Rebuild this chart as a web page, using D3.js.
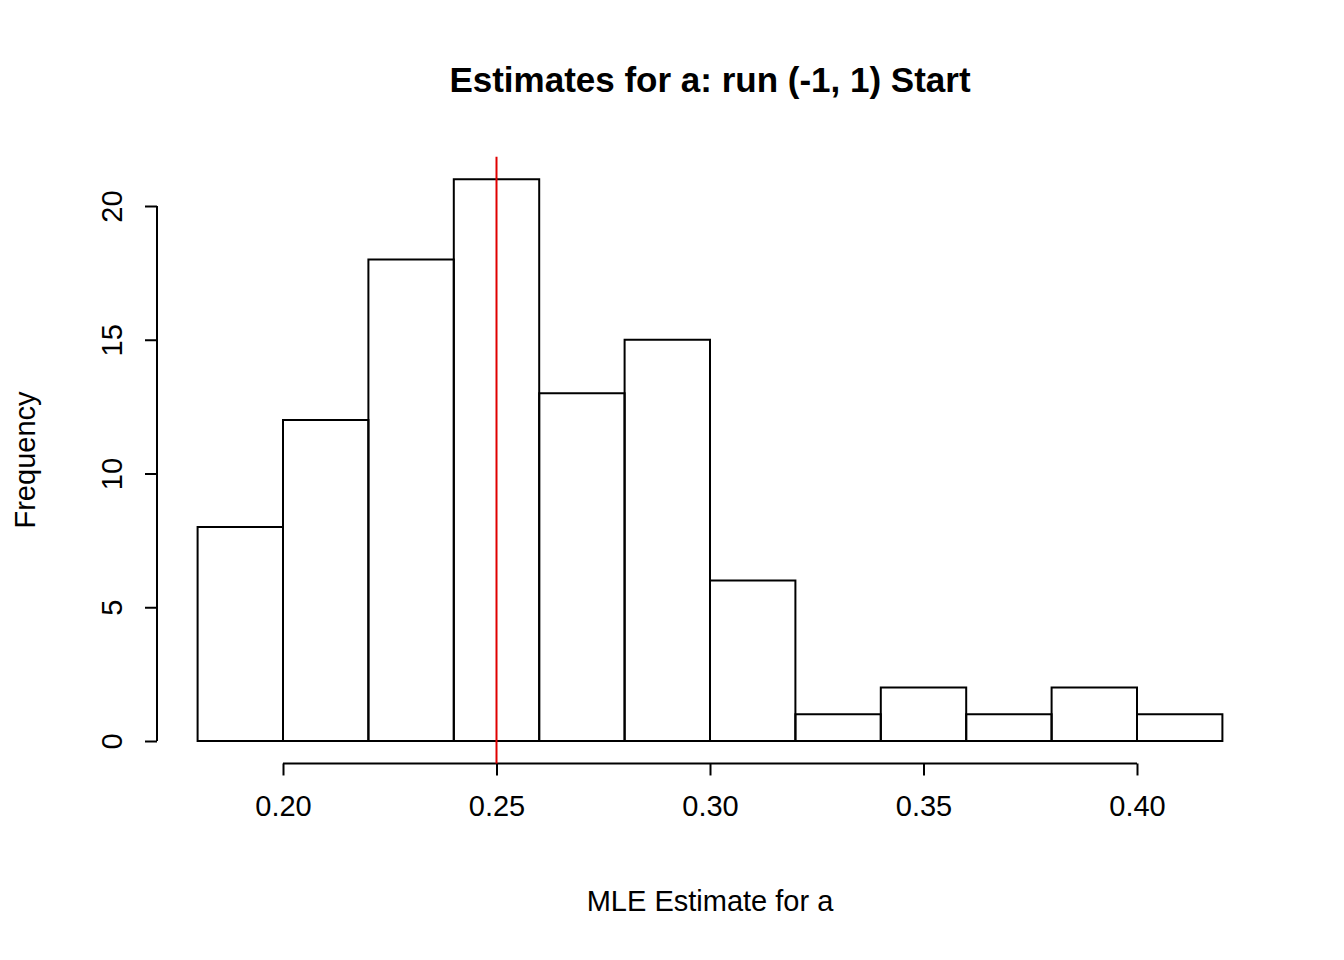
<!DOCTYPE html>
<html><head><meta charset="utf-8">
<script src="https://cdn.jsdelivr.net/npm/d3@7"></script>
<style>body{margin:0;background:#fff}text{font-family:"Liberation Sans",Arial,sans-serif}</style>
</head><body>
<svg id="c" width="1344" height="960"></svg>
<script>
const binStarts = [0.18,0.20,0.22,0.24,0.26,0.28,0.30,0.32,0.34,0.36,0.38,0.40];
const binWidth = 0.02;
const counts = [8,12,18,21,13,15,6,1,2,1,2,1];
const xTicks = [0.20,0.25,0.30,0.35,0.40];
const yTicks = [0,5,10,15,20];
const trueValue = 0.25;

const svg = d3.select("#c");
const x = d3.scaleLinear().domain([0.20,0.40]).range([283,1137]);
const y = d3.scaleLinear().domain([0,20]).range([741,206]);
const [yTop, yBot] = [y(21.84), y(-0.84)];

svg.selectAll("rect").data(counts).enter().append("rect")
  .attr("x",(d,i)=>x(binStarts[i])).attr("width",(d,i)=>x(binStarts[i]+binWidth)-x(binStarts[i]))
  .attr("y",d=>y(d)).attr("height",d=>y(0)-y(d))
  .attr("fill","none").attr("stroke","#000").attr("stroke-width",2);

const xa = svg.append("g").attr("transform",`translate(0,${yBot})`)
  .call(d3.axisBottom(x).tickValues(xTicks).tickFormat(d3.format(".2f")).tickSize(12).tickPadding(20));
const ya = svg.append("g").attr("transform","translate(157,0)")
  .call(d3.axisLeft(y).tickValues(yTicks).tickSize(12).tickPadding(20));
[xa,ya].forEach(a=>{a.selectAll("path,line").attr("stroke","#000").attr("stroke-width",2);
  a.select(".domain").attr("d",null);
  a.selectAll("text").attr("font-size",29).attr("fill","#000").attr("font-family","Liberation Sans, Arial, sans-serif");});
xa.append("line").attr("x1",x(0.20)).attr("x2",x(0.40)).attr("stroke","#000").attr("stroke-width",2);
ya.append("line").attr("y1",y(0)).attr("y2",y(20)).attr("stroke","#000").attr("stroke-width",2);
ya.selectAll(".tick text").attr("transform",function(){const t=d3.select(this);return null;})
  .each(function(){const s=d3.select(this);s.attr("text-anchor","middle").attr("dy",null).attr("x",null)
   .attr("transform","translate(-45,0) rotate(-90)").attr("y",10);});

svg.append("line").attr("x1",x(trueValue)).attr("x2",x(trueValue)).attr("y1",yTop).attr("y2",yBot)
  .attr("stroke","#e00000").attr("stroke-width",2);

svg.append("text").attr("x",710).attr("y",92).attr("text-anchor","middle").attr("font-size",35)
  .attr("font-weight","bold").text("Estimates for a: run (-1, 1) Start");
svg.append("text").attr("x",710).attr("y",911).attr("text-anchor","middle").attr("font-size",29).text("MLE Estimate for a");
svg.append("text").attr("transform","translate(35,460) rotate(-90)").attr("text-anchor","middle").attr("font-size",29).text("Frequency");
</script></body></html>
